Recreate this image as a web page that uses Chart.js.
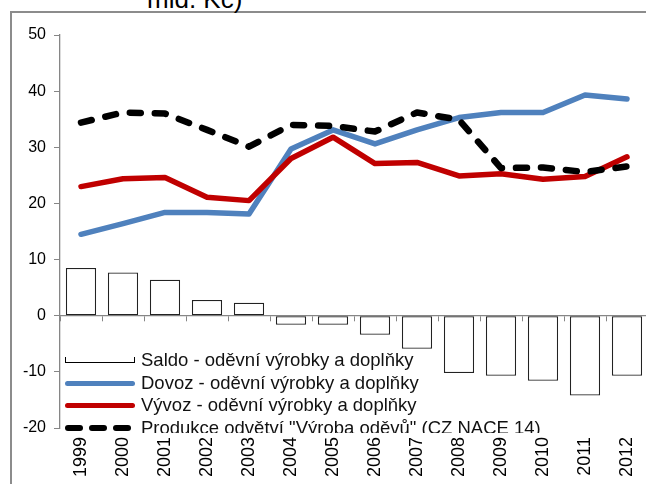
<!DOCTYPE html>
<html>
<head>
<meta charset="utf-8">
<script src="https://cdn.jsdelivr.net/npm/chart.js@4"></script>
<style>
    html, body { margin: 0; padding: 0; background: #fff; }
    body { width: 646px; height: 484px; overflow: hidden; position: relative; font-family: "Liberation Sans", Arial, sans-serif; }
    #frame { position: absolute; left: 10px; top: 11px; width: 700px; height: 500px; border-left: 2px solid #8c8c8c; border-top: 2px solid #8c8c8c; }
    #title { position: absolute; left: 147px; top: -14px; font-size: 26px; line-height: 26px; color: #000; white-space: nowrap; }
    #wrap { position: absolute; left: 0; top: 0; width: 700px; height: 484px; }
    #legend { position: absolute; left: 65px; top: 349px; height: 84px; width: 560px; overflow: hidden; font-size: 18.5px; color: #111; }
    .row { height: 22.5px; line-height: 22.5px; white-space: nowrap; display: flex; align-items: center; }
    .sym { width: 70px; height: 22.5px; position: relative; margin-right: 6px; flex: none; }
    .sym .box { position: absolute; left: 0; right: 0; top: 8px; height: 5px; border: 1px solid #000; border-top: none; }
    .sym .ln { position: absolute; left: 0; right: 0; top: 9px; height: 5px; border-radius: 3px; }
    .sym .dash { position: absolute; top: 8px; width: 18px; height: 6.5px; border-radius: 3.5px; background: #000; }
</style>
</head>
<body>
<div id="frame"></div>
<div id="title">mld. Kč)</div>
<div id="wrap"><canvas id="chart" width="700" height="484"></canvas></div>
<div id="legend">
    <div class="row"><div class="sym"><div class="box"></div></div><span>Saldo - oděvní výrobky a doplňky</span></div>
    <div class="row"><div class="sym"><div class="ln" style="background:#4f81bd"></div></div><span>Dovoz - oděvní výrobky a doplňky</span></div>
    <div class="row"><div class="sym"><div class="ln" style="background:#c00000"></div></div><span>Vývoz - oděvní výrobky a doplňky</span></div>
    <div class="row"><div class="sym"><div class="dash" style="left:0"></div><div class="dash" style="left:24px"></div><div class="dash" style="left:48px"></div></div><span>Produkce odvětví "Výroba oděvů" (CZ NACE 14)</span></div>
</div>
<script>
// Roky
const roky = ['1999', '2000', '2001', '2002', '2003', '2004', '2005', '2006', '2007', '2008', '2009', '2010', '2011', '2012'];

// Hodnoty (mld. Kč)
const saldo = [8.5, 7.7, 6.4, 2.8, 2.3, -1.6, -1.6, -3.4, -5.9, -10.2, -10.7, -11.6, -14.2, -10.7];
const dovoz = [14.5, 16.4, 18.4, 18.4, 18.1, 29.7, 33.1, 30.6, 33.1, 35.3, 36.2, 36.2, 39.3, 38.6];
const vyvoz = [23.0, 24.4, 24.6, 21.1, 20.5, 28.0, 31.8, 27.1, 27.3, 24.9, 25.3, 24.3, 24.8, 28.3];
const produkce = [34.4, 36.2, 36.0, 33.1, 30.1, 34.0, 33.8, 32.8, 36.2, 34.9, 26.3, 26.4, 25.6, 26.6];

// Osa Y
const osaMin = -20;
const osaMax = 50;
const osaKrok = 10;

const sedaOsa = '#868686';

const ctx = document.getElementById('chart').getContext('2d');
new Chart(ctx, {
    type: 'bar',
    data: {
        labels: roky,
        datasets: [
            {
                type: 'line',
                label: 'Produkce odvětví "Výroba oděvů" (CZ NACE 14)',
                data: produkce,
                borderColor: '#000',
                borderWidth: 6.5,
                borderDash: [11, 14],
                borderCapStyle: 'round',
                borderJoinStyle: 'round',
                pointRadius: 0,
                tension: 0,
                order: 1
            },
            {
                type: 'line',
                label: 'Vývoz - oděvní výrobky a doplňky',
                data: vyvoz,
                borderColor: '#c00000',
                borderWidth: 5.5,
                borderCapStyle: 'round',
                borderJoinStyle: 'round',
                pointRadius: 0,
                tension: 0,
                order: 2
            },
            {
                type: 'line',
                label: 'Dovoz - oděvní výrobky a doplňky',
                data: dovoz,
                borderColor: '#4f81bd',
                borderWidth: 5.5,
                borderCapStyle: 'round',
                borderJoinStyle: 'round',
                pointRadius: 0,
                tension: 0,
                order: 3
            },
            {
                label: 'Saldo - oděvní výrobky a doplňky',
                data: saldo,
                backgroundColor: '#fff',
                borderColor: '#222',
                borderWidth: 1.3,
                borderSkipped: false,
                barPercentage: 0.72,
                categoryPercentage: 1,
                order: 4
            }
        ]
    },
    options: {
        responsive: false,
        animation: false,
        layout: { padding: { top: 35, right: 52, bottom: 0, left: 0 } },
        plugins: {
            legend: { display: false },
            tooltip: { enabled: false }
        },
        scales: {
            x: {
                position: 'bottom',
                grid: { display: false },
                border: { display: false },
                ticks: {
                    color: '#000',
                    font: { family: 'Liberation Sans', size: 18 },
                    minRotation: 90,
                    maxRotation: 90,
                    padding: 1,
                    autoSkip: false
                },
                afterFit: s => { s.height = 56; }
            },
            // vodorovná osa v nule s krátkými značkami mezi roky
            x2: {
                type: 'category',
                axis: 'x',
                position: { y: 0 },
                offset: true,
                grid: { offset: true, drawOnChartArea: false, tickLength: 5, color: sedaOsa },
                border: { color: sedaOsa, width: 1.3 },
                ticks: { display: false }
            },
            y: {
                min: osaMin,
                max: osaMax,
                ticks: {
                    stepSize: osaKrok,
                    color: '#000',
                    font: { family: 'Liberation Sans', size: 16 },
                    padding: 8
                },
                grid: { drawOnChartArea: false, tickLength: 6, color: sedaOsa },
                border: { color: sedaOsa, width: 1.3 },
                afterFit: s => { s.width = 60; }
            }
        }
    }
});
</script>
</body>
</html>
